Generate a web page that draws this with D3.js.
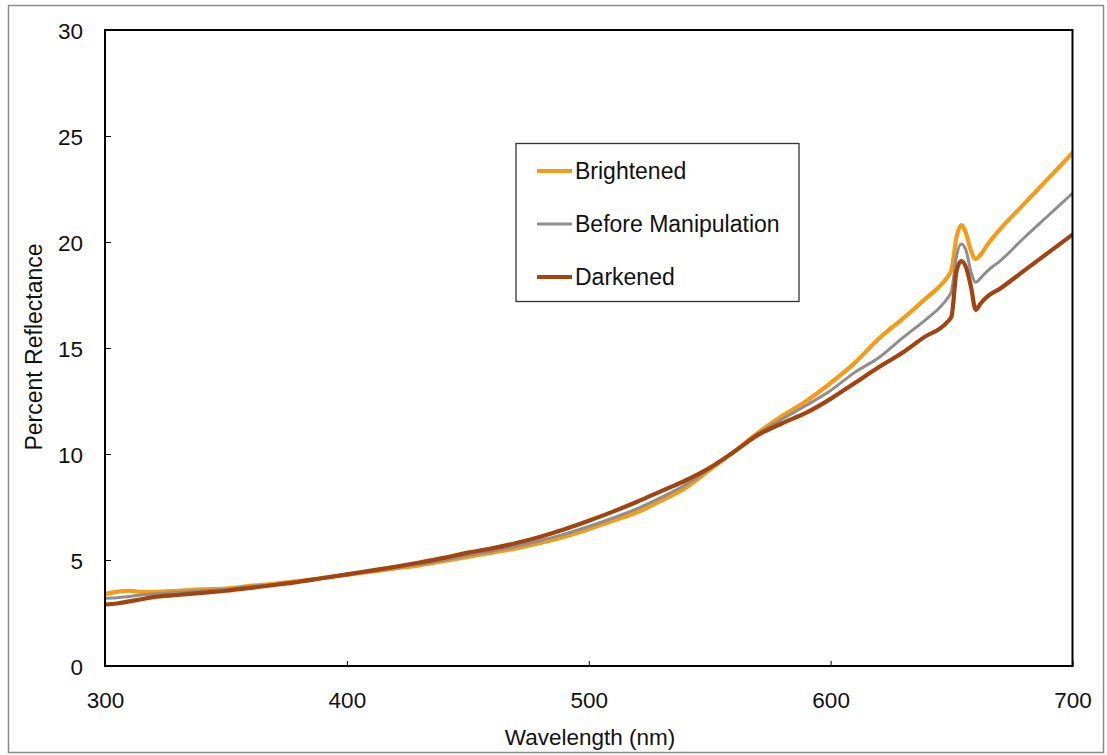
<!DOCTYPE html>
<html>
<head>
<meta charset="utf-8">
<script src="https://cdn.jsdelivr.net/npm/d3@7/dist/d3.min.js"></script>
<style>
  html, body { margin: 0; padding: 0; background: #fff; }
  svg { display: block; font-family: "Liberation Sans", Arial, sans-serif; }
</style>
</head>
<body>
<svg id="chart" width="1107" height="755"></svg>
<script>
// Reflectance spectra (percent) sampled at the wavelengths below (nm)
const wavelengths = [300,305,310,315,320,330,340,350,360,370,380,390,400,410,420,430,440,450,460,470,480,490,500,510,520,530,540,550,560,570,580,590,600,610,620,630,640,645,648,650,652,654,656,658,660,662,665,670,680,690,700];

const brightened = [3.40,3.50,3.55,3.50,3.50,3.55,3.62,3.65,3.78,3.88,4.00,4.15,4.30,4.45,4.60,4.75,4.95,5.15,5.35,5.55,5.80,6.10,6.45,6.85,7.25,7.80,8.40,9.25,10.1,11.0,11.8,12.5,13.35,14.3,15.45,16.4,17.4,17.9,18.3,18.7,20.2,20.8,20.4,19.6,19.2,19.4,19.9,20.6,21.8,23.0,24.2];

const beforeManipulation = [3.20,3.22,3.28,3.35,3.40,3.48,3.55,3.62,3.75,3.85,3.98,4.13,4.30,4.47,4.63,4.80,5.00,5.22,5.42,5.65,5.92,6.22,6.58,6.98,7.42,7.95,8.55,9.30,10.1,10.95,11.65,12.3,13.0,13.85,14.55,15.5,16.4,16.9,17.3,17.7,19.3,19.9,19.6,18.6,18.1,18.3,18.65,19.1,20.2,21.25,22.3];

const darkened = [2.90,2.95,3.05,3.15,3.25,3.35,3.45,3.55,3.68,3.82,3.97,4.15,4.32,4.50,4.68,4.88,5.10,5.35,5.55,5.80,6.10,6.45,6.85,7.28,7.75,8.25,8.75,9.35,10.1,10.9,11.45,11.95,12.6,13.35,14.1,14.8,15.6,15.9,16.2,16.5,18.6,19.1,18.8,17.9,16.8,17.1,17.45,17.8,18.65,19.5,20.35];

const seriesNames = ["Brightened", "Before Manipulation", "Darkened"];
const xTicks = [300, 400, 500, 600, 700];
const yTicks = [0, 5, 10, 15, 20, 25, 30];

const series = [
  { name: seriesNames[0], values: brightened,         color: "#F59B18", width: 4.2 },
  { name: seriesNames[1], values: beforeManipulation, color: "#8E8E8E", width: 3 },
  { name: seriesNames[2], values: darkened,           color: "#A3430F", width: 4.2 }
];

const svg = d3.select("#chart");
const plot = { left: 105, top: 30, right: 1072.5, bottom: 666 };

// outer chart frame
svg.append("rect")
  .attr("x", 8.5).attr("y", 5.5)
  .attr("width", 1095).attr("height", 747)
  .attr("fill", "#fff").attr("stroke", "#8a8a8a").attr("stroke-width", 1.5);

const x = d3.scaleLinear().domain([300, 700]).range([plot.left, plot.right]);
const y = d3.scaleLinear().domain([0, 30]).range([plot.bottom, plot.top]);

// axes with inward ticks
const xAxis = svg.append("g")
  .attr("transform", `translate(0,${plot.bottom})`)
  .call(d3.axisBottom(x).tickValues(xTicks).tickSizeInner(-5).tickSizeOuter(0).tickPadding(26));
const yAxis = svg.append("g")
  .attr("transform", `translate(${plot.left},0)`)
  .call(d3.axisLeft(y).tickValues(yTicks).tickSizeInner(-6).tickSizeOuter(0).tickPadding(22));

[xAxis, yAxis].forEach(g => {
  g.select(".domain").remove();
  g.selectAll(".tick line").attr("stroke", "#000").attr("stroke-width", 1);
  g.selectAll(".tick text")
    .attr("fill", "#111")
    .style("font-size", "22.5px")
    .style("font-family", "'Liberation Sans', Arial, sans-serif");
});
yAxis.selectAll(".tick text").attr("dy", "0.36em");

// spectra
const line = d3.line()
  .x((d, i) => x(wavelengths[i]))
  .y(d => y(d))
  .curve(d3.curveMonotoneX);

svg.append("clipPath").attr("id", "plotClip")
  .append("rect")
  .attr("x", plot.left).attr("y", plot.top - 4)
  .attr("width", plot.right - plot.left).attr("height", plot.bottom - plot.top + 4);

svg.append("g").attr("clip-path", "url(#plotClip)")
  .selectAll("path")
  .data(series)
  .join("path")
  .attr("d", d => line(d.values))
  .attr("fill", "none")
  .attr("stroke", d => d.color)
  .attr("stroke-width", d => d.width)
  .attr("stroke-linejoin", "round")
  .attr("stroke-linecap", "round");

// plot area border
svg.append("rect")
  .attr("x", plot.left).attr("y", plot.top)
  .attr("width", plot.right - plot.left).attr("height", plot.bottom - plot.top)
  .attr("fill", "none").attr("stroke", "#000").attr("stroke-width", 2);

// axis titles
svg.append("text")
  .attr("x", 590).attr("y", 745)
  .attr("text-anchor", "middle")
  .style("font-size", "22.5px").attr("fill", "#111")
  .text("Wavelength (nm)");

svg.append("text")
  .attr("transform", "translate(42,347) rotate(-90)")
  .attr("text-anchor", "middle")
  .style("font-size", "23px").attr("fill", "#111")
  .text("Percent Reflectance");

// legend
const legend = svg.append("g");
legend.append("rect")
  .attr("x", 516).attr("y", 143.5)
  .attr("width", 283).attr("height", 158)
  .attr("fill", "#fff").attr("stroke", "#333").attr("stroke-width", 1.3);

const rows = legend.selectAll("g.row")
  .data(series)
  .join("g")
  .attr("class", "row")
  .attr("transform", (d, i) => `translate(0,${171 + i * 53})`);

rows.append("line")
  .attr("x1", 537).attr("x2", 572)
  .attr("stroke", d => d.color)
  .attr("stroke-width", d => d.width);

rows.append("text")
  .attr("x", 575).attr("y", 0).attr("dy", "0.36em")
  .style("font-size", "23px").attr("fill", "#111")
  .text(d => d.name);
</script>
</body>
</html>
